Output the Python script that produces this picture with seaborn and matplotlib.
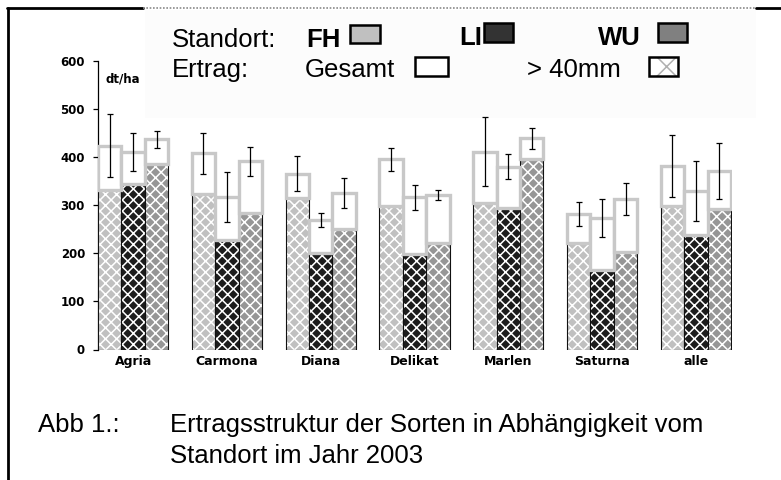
import numpy as np
import pandas as pd
import matplotlib
matplotlib.use("Agg")
import matplotlib.pyplot as plt
import seaborn as sns
from matplotlib.patches import Rectangle
from matplotlib.lines import Line2D

# -------------------------------------------------
# data (dt/ha)
# -------------------------------------------------
sorten = ["Agria", "Carmona", "Diana", "Delikat", "Marlen", "Saturna", "alle"]
standorte = ["FH", "LI", "WU"]

gesamt_fh = [424, 408, 366, 396, 411, 281, 382]
gesamt_li = [411, 318, 269, 317, 380, 273, 330]
gesamt_wu = [437, 391, 326, 321, 439, 313, 371]

gross_fh = [332, 324, 315, 299, 304, 222, 298]   # > 40mm
gross_li = [344, 227, 200, 198, 295, 165, 238]
gross_wu = [385, 283, 251, 222, 396, 203, 292]

err_fh = [65, 42, 36, 24, 72, 25, 65]
err_li = [39, 52, 14, 26, 26, 39, 62]
err_wu = [18, 30, 31, 10, 21, 33, 59]

yticks = [0, 100, 200, 300, 400, 500, 600]

gesamt = {"FH": gesamt_fh, "LI": gesamt_li, "WU": gesamt_wu}
gross = {"FH": gross_fh, "LI": gross_li, "WU": gross_wu}
err = {"FH": err_fh, "LI": err_li, "WU": err_wu}

rows = []
for s in standorte:
    for i, sorte in enumerate(sorten):
        rows.append({"Sorte": sorte, "Standort": s, "gesamt": gesamt[s][i],
                     "gross": gross[s][i], "err": err[s][i]})
df = pd.DataFrame(rows)

# -------------------------------------------------
# style
# -------------------------------------------------
sns.set_style("white")
plt.rcParams["hatch.linewidth"] = 1.1
plt.rcParams["text.color"] = "black"
plt.rcParams["xtick.color"] = "black"
plt.rcParams["ytick.color"] = "black"
plt.rcParams["xtick.labelcolor"] = "black"
plt.rcParams["ytick.labelcolor"] = "black"
SANS = ["Liberation Sans", "DejaVu Sans"]
BOLD = ["DejaVu Sans"]

bar_colors = ["#c0c0c0", "#1c1c1c", "#969696"]
box_edge = "#c8c8c8"

W, H = 781, 480
fig = plt.figure(figsize=(W / 100, H / 100), dpi=100)


def fx(px):
    return px / W


def fy(py):
    return 1 - py / H


# faint panel behind the legend text
fig.add_artist(Rectangle((fx(145), fy(118)), 611 / W, 108 / H, transform=fig.transFigure,
                         facecolor="#fcfcfc", edgecolor="none", zorder=0))

ax = fig.add_axes([fx(97.5), fy(349.5), (731.5 - 97.5) / W, (349.5 - 61) / H])
ax.patch.set_alpha(0)

# > 40mm part, hatched
sns.barplot(data=df, x="Sorte", y="gross", hue="Standort", order=sorten,
            hue_order=standorte, palette=bar_colors, width=0.75, gap=0,
            errorbar=None, saturation=1, legend=False, ax=ax, zorder=3)

centers = {}
for s, cont in zip(standorte, ax.containers):
    xs = []
    for p in cont.patches:
        p.set_hatch("xxx")
        p.set_edgecolor("#111111")
        p.set_linewidth(0.8)
        if hasattr(p, "set_hatchcolor"):
            p.set_hatchcolor("white")
        else:
            p._hatch_color = (1, 1, 1, 1)
        xs.append(p.get_x() + p.get_width() / 2)
    centers[s] = np.array(xs)
    bw = cont.patches[0].get_width()

# Gesamt: white box on top of the > 40mm part
for s in standorte:
    g = np.array(gesamt[s])
    b = np.array(gross[s])
    ax.bar(centers[s], g - b, bottom=b, width=bw, facecolor="white",
           edgecolor=box_edge, linewidth=2.4, zorder=4)
    ax.errorbar(centers[s], g, yerr=err[s], fmt="none", ecolor="black",
                elinewidth=0.9, capsize=2.3, capthick=0.9, zorder=5)

ax.set_xlim(-0.38, 6.38)
ax.set_ylim(0, 600)
ax.set_yticks(yticks)
ax.set_yticklabels([str(v) for v in yticks], fontfamily=BOLD, fontweight="bold",
                   fontsize=8.5, color="black")
ax.set_xticks(range(len(sorten)))
ax.set_xticklabels(sorten, fontfamily=BOLD, fontweight="bold", fontsize=9, color="black")
ax.tick_params(axis="y", length=3.5, width=0.9, pad=5.5, left=True, direction="out")
ax.tick_params(axis="x", length=0, pad=4)
ax.set_xlabel("")
ax.set_ylabel("")
for side in ["top", "right", "bottom"]:
    ax.spines[side].set_visible(False)
ax.spines["left"].set_linewidth(0.9)
ax.spines["left"].set_color("black")

ax.text(0.012, 0.96, "dt/ha", transform=ax.transAxes, fontfamily=BOLD,
        fontweight="bold", fontsize=8.5, va="top", ha="left", color="black")

# -------------------------------------------------
# legend block drawn as text + swatches
# -------------------------------------------------
FS = 18.5
fig.text(fx(172), fy(47), "Standort:", fontfamily=SANS, fontsize=FS, va="baseline")
fig.text(fx(306), fy(47), "FH", fontfamily=SANS, fontsize=FS, fontweight="bold", va="baseline")
fig.text(fx(459), fy(45), "LI", fontfamily=SANS, fontsize=FS, fontweight="bold", va="baseline")
fig.text(fx(598), fy(45), "WU", fontfamily=SANS, fontsize=FS, fontweight="bold", va="baseline")
fig.text(fx(172), fy(77), "Ertrag:", fontfamily=SANS, fontsize=FS, va="baseline")
fig.text(fx(305), fy(77), "Gesamt", fontfamily=SANS, fontsize=FS, va="baseline")
fig.text(fx(527), fy(77), "> 40mm", fontfamily=SANS, fontsize=FS, va="baseline")


def swatch(x0, y0, w, h, color, hatch=None):
    r = Rectangle((fx(x0), fy(y0 + h)), w / W, h / H, transform=fig.transFigure,
                  facecolor=color, edgecolor="black", linewidth=1.8, zorder=3)
    if hatch:
        r.set_hatch(hatch)
        if hasattr(r, "set_hatchcolor"):
            r.set_hatchcolor("#b0b0b0")
        else:
            r._hatch_color = (0.69, 0.69, 0.69, 1)
    fig.add_artist(r)


swatch(350, 25, 30, 18, "#c0c0c0")
swatch(484, 23, 29, 19, "#333333")
swatch(658, 23, 29, 19, "#808080")
swatch(415, 57, 33, 19, "white")
swatch(649, 57, 29, 19, "white", hatch="x")

# caption
fig.text(fx(38), fy(432), "Abb 1.:", fontfamily=SANS, fontsize=FS, va="baseline")
fig.text(fx(170), fy(432), "Ertragsstruktur der Sorten in Abhängigkeit vom",
         fontfamily=SANS, fontsize=FS, va="baseline")
fig.text(fx(170), fy(463), "Standort im Jahr 2003", fontfamily=SANS, fontsize=FS, va="baseline")

# frame lines
fig.add_artist(Line2D([fx(8), fx(8)], [fy(8), fy(480)], transform=fig.transFigure,
                      color="black", linewidth=2))
fig.add_artist(Line2D([fx(7), fx(143)], [fy(8), fy(8)], transform=fig.transFigure,
                      color="black", linewidth=2))
fig.add_artist(Line2D([fx(143), fx(756)], [fy(8), fy(8)], transform=fig.transFigure,
                      color="#8a8a8a", linewidth=1.2, linestyle=(0, (1, 1))))
fig.add_artist(Line2D([fx(756), fx(781)], [fy(8), fy(8)], transform=fig.transFigure,
                      color="black", linewidth=2))

fig.savefig("out.png", dpi=100)
